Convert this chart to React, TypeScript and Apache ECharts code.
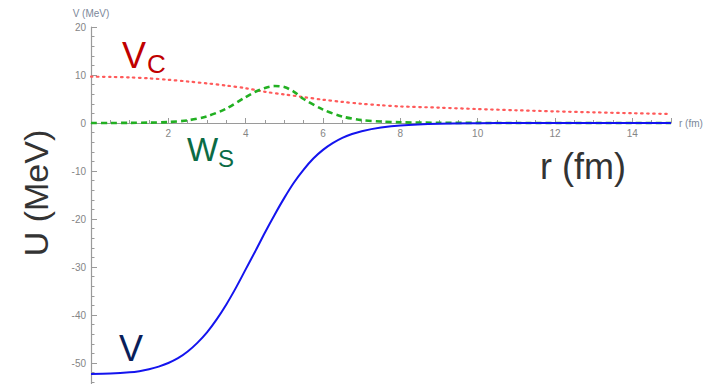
import React, { useEffect, useRef } from "react";
import * as echarts from "echarts";

const rCoarse = [0, 0.5, 1, 1.5, 2, 2.5, 3, 3.5, 4, 4.5, 5, 5.5, 6, 6.5, 7, 7.5, 8, 9, 10, 11, 12, 13, 14, 15];
const vCoulomb = [9.65, 9.6, 9.5, 9.3, 9.0, 8.65, 8.25, 7.8, 7.25, 6.5, 5.95, 5.4, 4.85, 4.4, 4.0, 3.7, 3.45, 3.2, 2.9, 2.65, 2.42, 2.22, 2.04, 1.88];

const rSurface = [0, 0.5, 1, 1.5, 2, 2.5, 3, 3.5, 4, 4.25, 4.5, 4.75, 5, 5.25, 5.5, 6, 6.5, 7, 7.5, 8, 9, 10, 11, 15];
const wSurface = [0, 0.01, 0.03, 0.08, 0.2, 0.55, 1.4, 3.0, 5.4, 6.5, 7.3, 7.7, 7.5, 6.5, 5.0, 2.8, 1.35, 0.6, 0.3, 0.15, 0.05, 0.02, 0, 0];

const rFine = [0, 0.5, 1, 1.25, 1.5, 1.75, 2, 2.25, 2.5, 2.75, 3, 3.25, 3.5, 3.75, 4, 4.25, 4.5, 4.75, 5, 5.25, 5.5, 5.75, 6, 6.25, 6.5, 6.75, 7, 7.5, 8, 9, 10, 11, 12, 13, 14, 15];
const vNuclear = [-52.3, -52.2, -51.95, -51.7, -51.3, -50.75, -50.0, -49.0, -47.6, -45.8, -43.6, -40.9, -37.8, -34.3, -30.5, -26.7, -22.8, -19.1, -15.6, -12.4, -9.7, -7.4, -5.6, -4.2, -3.1, -2.3, -1.7, -0.95, -0.5, -0.15, -0.05, 0, 0, 0, 0, 0];

const xTickLabels = ["2", "4", "6", "8", "10", "12", "14"];
const yTickLabels = ["20", "10", "0", "-10", "-20", "-30", "-40", "-50"];

const pairs = (xs: number[], ys: number[]) => xs.map((r, i) => [r, ys[i]]);

export default function App() {
  const ref = useRef<HTMLDivElement>(null);
  useEffect(() => {
    if (!ref.current) return;
    const chart = echarts.init(ref.current, null, { renderer: "svg" });
    const font = "'Liberation Sans', Arial, sans-serif";
    const yMin = -60;
    const yMax = 20;
    const gridTop = 27;
    const gridBottom = -27;
    const plotH = 384 - gridTop - gridBottom;
    const zeroFromBottom = (plotH * (0 - yMin)) / (yMax - yMin);
    chart.setOption({
      animation: false,
      grid: { left: 91, right: 39, top: gridTop, bottom: gridBottom, containLabel: false, outerBoundsMode: "none" },
      xAxis: {
        type: "value",
        position: "bottom",
        offset: -zeroFromBottom,
        min: 0,
        max: 15,
        interval: 2,
        name: "r (fm)",
        nameLocation: "end",
        nameGap: 8,
        nameTextStyle: { color: "#7c8799", fontSize: 10, fontFamily: font },
        axisLine: { onZero: false, lineStyle: { color: "#9a9a9a", width: 1.2 } },
        axisTick: { show: true, inside: true, length: 5, lineStyle: { color: "#9a9a9a" } },
        minorTick: { show: true, splitNumber: 4, length: 3, lineStyle: { color: "#9a9a9a" } },
        splitLine: { show: false },
        axisLabel: {
          margin: 5,
          color: "#858585",
          fontSize: 10,
          fontFamily: font,
          showMaxLabel: false,
          formatter: (v: number) => (xTickLabels.includes(String(v)) ? String(v) : ""),
        },
      },
      yAxis: {
        type: "value",
        min: yMin,
        max: yMax,
        interval: 10,
        name: "V (MeV)",
        nameLocation: "end",
        nameGap: 9,
        nameTextStyle: { color: "#7c8799", fontSize: 10, fontFamily: font, align: "center" },
        axisLine: { show: true, onZero: false, lineStyle: { color: "#9a9a9a", width: 1.2 } },
        axisTick: { show: true, inside: true, length: 6, lineStyle: { color: "#9a9a9a" } },
        minorTick: { show: true, splitNumber: 5, length: 3.5, lineStyle: { color: "#9a9a9a" } },
        splitLine: { show: false },
        axisLabel: {
          margin: 5,
          color: "#858585",
          fontSize: 10,
          fontFamily: font,
          formatter: (v: number) => (yTickLabels.includes(String(v)) ? String(v) : ""),
        },
      },
      series: [
        {
          type: "line",
          data: pairs(rCoarse, vCoulomb),
          smooth: 0.3,
          showSymbol: false,
          lineStyle: { color: "#ff5a5a", width: 2.2, type: [1.5, 4.5], cap: "round" },
          z: 2,
        },
        {
          type: "line",
          data: pairs(rSurface, wSurface),
          smooth: 0.3,
          showSymbol: false,
          lineStyle: { color: "#22b022", width: 2.6, type: [6, 4] },
          z: 3,
        },
        {
          type: "line",
          data: pairs(rFine, vNuclear),
          smooth: 0.3,
          showSymbol: false,
          lineStyle: { color: "#1414ee", width: 2 },
          z: 4,
        },
      ],
      graphic: [
        { type: "text", left: 122, top: 37, style: { text: "V", fill: "#c00000", fontSize: 36, fontFamily: font } },
        { type: "text", left: 147, top: 51, style: { text: "C", fill: "#c00000", fontSize: 26, fontFamily: font } },
        { type: "text", left: 187, top: 133, style: { text: "W", fill: "#0b6b45", fontSize: 33, fontFamily: font } },
        { type: "text", left: 218, top: 146, style: { text: "S", fill: "#0b6b45", fontSize: 24, fontFamily: font } },
        { type: "text", left: 119, top: 330, style: { text: "V", fill: "#0a1e5a", fontSize: 36, fontFamily: font } },
        { type: "text", left: 540, top: 148, style: { text: "r (fm)", fill: "#333333", fontSize: 36, fontFamily: font } },
        {
          type: "text",
          x: 36,
          y: 193,
          rotation: Math.PI / 2,
          style: { text: "U (MeV)", fill: "#333333", fontSize: 34, fontFamily: font, align: "center", verticalAlign: "middle" },
        },
      ],
    });
    return () => chart.dispose();
  }, []);
  return <div ref={ref} style={{ position: "fixed", left: 0, top: 0, width: 710, height: 384, background: "#fff" }} />;
}
